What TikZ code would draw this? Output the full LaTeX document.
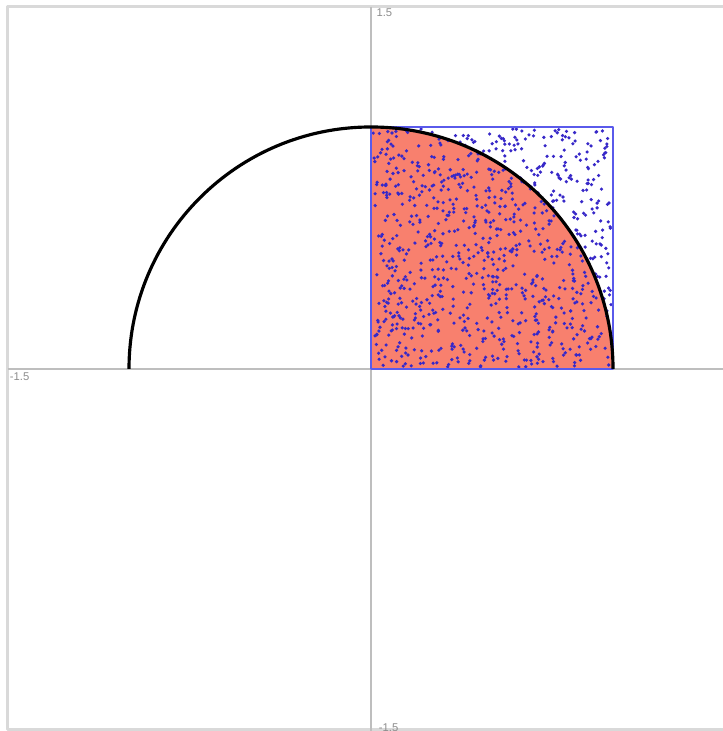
\documentclass[tikz,border=0pt]{standalone}
\usepackage{fontspec}
\setmainfont{Liberation Sans}
\definecolor{framegray}{RGB}{217,217,217}
\definecolor{axisgray}{RGB}{190,190,190}
\definecolor{labelgray}{RGB}{140,140,140}
\definecolor{hitred}{RGB}{248,128,110}
\definecolor{dotblue}{RGB}{55,40,200}
\definecolor{boxblue}{RGB}{90,90,235}
\tikzset{
  axisline/.style={color=axisgray,line width=0.55pt},
  ticklabel/.style={color=labelgray,inner sep=0pt,font=\fontsize{3.2}{3.4}\selectfont},
  hitdot/.style={fill=dotblue},
}
\begin{document}
\begin{tikzpicture}[x=2.42cm,y=2.42cm,line cap=butt,line join=round]
				\useasboundingbox (-1.5331,-1.4959) rectangle (1.4545,1.5248);
				% frame of the plot area
				\draw[color=framegray,line width=0.85pt] (1.6,1.496)--(-1.502,1.496)--(-1.502,-1.488)--(1.6,-1.488);
				% axes
				\draw[axisline] (-1.502,0)--(1.6,0);
				\draw[axisline] (0,1.496)--(0,-1.6);
				\node[ticklabel,anchor=north west] (ytop) at (0.02,1.49) {1.5};
				\node[ticklabel,anchor=north west] (xleft) at (-1.495,-0.012) {-1.5};
				\node[ticklabel,anchor=north west] (ybot) at (0.03,-1.465) {-1.5};
				% quarter disc that holds the hits
				\fill[hitred] (0,0)--(1,0) arc (0:90:1)--cycle;
				% random points in the unit square
				\pgfmathsetseed{31415}
				\foreach \i in {1,...,900}{
					\pgfmathsetmacro{\px}{0.008+0.984*rnd}
					\pgfmathsetmacro{\py}{0.008+0.984*rnd}
					\fill[hitdot] (\px,\py) circle (0.0074);
				}
				\draw[color=boxblue,line width=0.45pt] (0,0) rectangle (1,1);
				% unit semicircle
				\draw[line width=0.9pt] (-1,0) arc (180:0:1);
			\end{tikzpicture}
\end{document}
